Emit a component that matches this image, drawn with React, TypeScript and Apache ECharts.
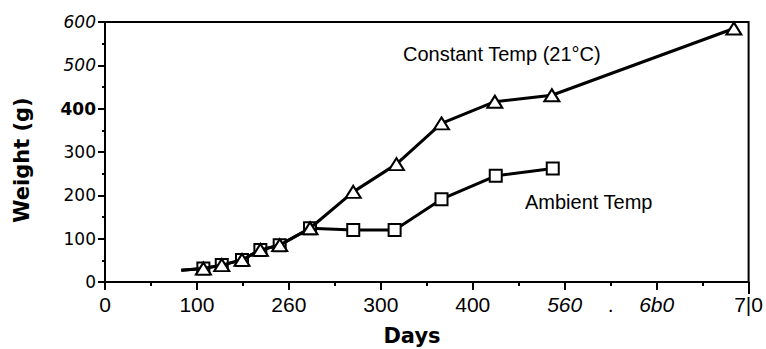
import { useEffect, useRef } from "react";
import * as echarts from "echarts";

// Constant Temp (21°C) — triangles
const CONST_DAYS = [83, 107, 127, 149, 169, 190, 223, 270, 317, 366, 424, 486, 684];
const CONST_WEIGHT = [27, 31, 39, 51, 74, 85, 124, 208, 272, 366, 416, 431, 585];
// Ambient Temp — squares
const AMB_DAYS = [83, 107, 127, 149, 169, 190, 223, 270, 315, 366, 425, 487];
const AMB_WEIGHT = [27, 31, 39, 51, 74, 85, 124, 120, 120, 191, 245, 262];

const X_TICK_VALUES = [0, 100, 200, 300, 400, 500, 550, 600, 700];
const X_TICK_LABELS = ["0", "100", "260", "300", "400", "560", ".", "6b0", "7|0"];
const X_ITALIC = ["560", "6b0"];
const Y_TICK_VALUES = [0, 100, 200, 300, 400, 500, 600];
const Y_TICK_LABELS = ["0", "100", "200", "300", "400", "500", "600"];
const Y_ITALIC = ["500", "600"];
const Y_BOLD = ["400"];

const SANS = '"Liberation Sans", Arial, sans-serif';
const DEJAVU = '"DejaVu Sans", sans-serif';

function toData(xs: number[], ys: number[]) {
  return xs.map((x, i) =>
    i === 0 ? { value: [x, ys[i]], symbol: "none" } : { value: [x, ys[i]] }
  );
}

export default function App() {
  const ref = useRef<HTMLDivElement>(null);
  useEffect(() => {
    const chart = echarts.init(ref.current!, null, { renderer: "svg" });
    const xRich = {
      n: { fontFamily: SANS, fontSize: 21, color: "#000" },
      i: { fontFamily: SANS, fontSize: 21, color: "#000", fontStyle: "italic" },
    };
    const yRich = {
      n: { fontFamily: DEJAVU, fontSize: 17, color: "#000" },
      i: { fontFamily: DEJAVU, fontSize: 17, color: "#000", fontStyle: "italic" },
      b: { fontFamily: DEJAVU, fontSize: 17, color: "#000", fontWeight: "bold" },
    };
    chart.setOption({
      animation: false,
      backgroundColor: "#fff",
      grid: {
        left: 105,
        right: 17,
        top: 22,
        bottom: 67,
        show: true,
        borderColor: "#000",
        borderWidth: 2,
      },
      xAxis: [
        {
          type: "value",
          min: 0,
          max: 700,
          interval: 100,
          axisLine: { lineStyle: { color: "#000", width: 2 } },
          axisTick: { length: 8, lineStyle: { color: "#000", width: 2 } },
          minorTick: { show: true, splitNumber: 2, length: 4, lineStyle: { color: "#000", width: 2 } },
          axisLabel: { show: false },
          splitLine: { show: false },
          minorSplitLine: { show: false },
        },
        {
          type: "value",
          position: "bottom",
          min: 0,
          max: 700,
          interval: 50,
          axisLine: { show: false },
          axisTick: { show: false },
          splitLine: { show: false },
          axisLabel: {
            margin: 12,
            showMinLabel: true,
            showMaxLabel: true,
            rich: xRich,
            formatter: (v: number) => {
              const idx = X_TICK_VALUES.indexOf(Math.round(v));
              if (idx < 0) return "";
              const t = X_TICK_LABELS[idx];
              return X_ITALIC.includes(t) ? `{i|${t}}` : `{n|${t}}`;
            },
          },
        },
      ],
      yAxis: {
        type: "value",
        min: 0,
        max: 600,
        interval: 100,
        axisLine: { show: true, lineStyle: { color: "#000", width: 2 } },
        axisTick: { show: true, length: 7, lineStyle: { color: "#000", width: 2 } },
        minorTick: { show: true, splitNumber: 2, length: 3, lineStyle: { color: "#000", width: 2 } },
        splitLine: { show: false },
        minorSplitLine: { show: false },
        axisLabel: {
          margin: 9,
          rich: yRich,
          formatter: (v: number) => {
            const idx = Y_TICK_VALUES.indexOf(Math.round(v));
            if (idx < 0) return "";
            const t = Y_TICK_LABELS[idx];
            if (Y_ITALIC.includes(t)) return `{i|${t}}`;
            if (Y_BOLD.includes(t)) return `{b|${t}}`;
            return `{n|${t}}`;
          },
        },
      },
      series: [
        {
          name: "Ambient Temp",
          type: "line",
          xAxisIndex: 0,
          data: toData(AMB_DAYS, AMB_WEIGHT),
          symbol: "rect",
          symbolSize: 12,
          showAllSymbol: true,
          lineStyle: { color: "#000", width: 3 },
          itemStyle: { color: "#fff", borderColor: "#000", borderWidth: 2 },
          z: 2,
        },
        {
          name: "Constant Temp (21°C)",
          type: "line",
          xAxisIndex: 0,
          data: toData(CONST_DAYS, CONST_WEIGHT),
          symbol: "triangle",
          symbolSize: [15, 12],
          showAllSymbol: true,
          lineStyle: { color: "#000", width: 3 },
          itemStyle: { color: "#fff", borderColor: "#000", borderWidth: 2 },
          z: 3,
        },
      ],
      graphic: [
        {
          type: "text",
          x: 22,
          y: 160,
          rotation: Math.PI / 2,
          style: {
            text: "Weight (g)",
            fontFamily: DEJAVU,
            fontSize: 21,
            fontWeight: "bold",
            fill: "#000",
            textAlign: "center",
            textVerticalAlign: "middle",
          },
        },
        {
          type: "text",
          x: 412,
          y: 336,
          style: {
            text: "Days",
            fontFamily: DEJAVU,
            fontSize: 21,
            fontWeight: "bold",
            fill: "#000",
            textAlign: "center",
            textVerticalAlign: "middle",
          },
        },
        {
          type: "text",
          x: 403,
          y: 54,
          style: {
            text: "Constant Temp (21°C)",
            fontFamily: SANS,
            fontSize: 20,
            fill: "#000",
            textAlign: "left",
            textVerticalAlign: "middle",
          },
        },
        {
          type: "text",
          x: 525,
          y: 202,
          style: {
            text: "Ambient Temp",
            fontFamily: SANS,
            fontSize: 20,
            fill: "#000",
            textAlign: "left",
            textVerticalAlign: "middle",
          },
        },
        {
          type: "line",
          shape: { x1: 749, y1: 282, x2: 749, y2: 294 },
          style: { stroke: "#000", lineWidth: 2 },
        },
      ],
    });
    return () => chart.dispose();
  }, []);
  return (
    <div
      ref={ref}
      style={{ position: "fixed", left: 0, top: 0, width: 766, height: 349 }}
    />
  );
}
